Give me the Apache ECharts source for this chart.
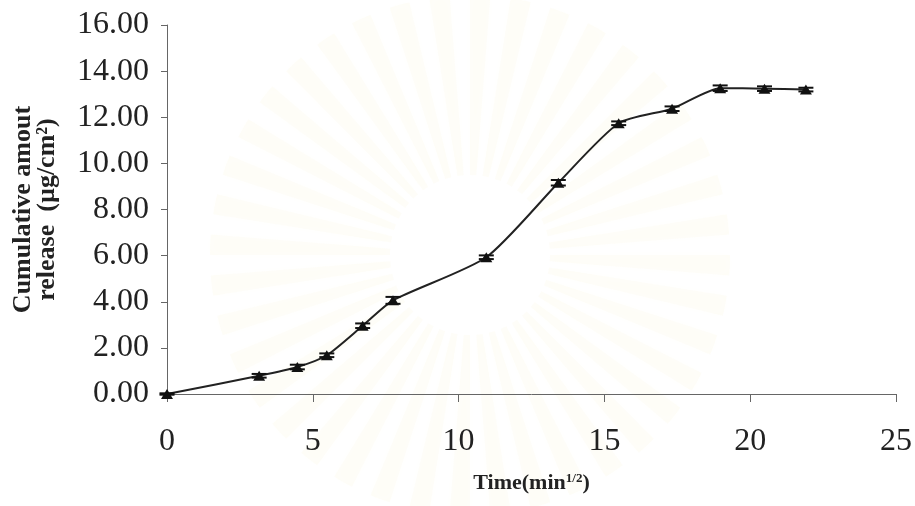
<!DOCTYPE html>
<html>
<head>
<meta charset="utf-8">
<script src="https://cdn.jsdelivr.net/npm/echarts@6/dist/echarts.min.js"></script>
<style>
  html, body { margin: 0; padding: 0; background: #ffffff; }
  #chart { width: 915px; height: 506px; }
</style>
</head>
<body>
<div id="chart"></div>
<script>
// Release time points on a square-root-of-time scale (min^1/2)
const timeSqrt = [0, 3.16, 4.47, 5.48, 6.71, 7.75, 10.95, 13.42, 15.49, 17.32, 18.97, 20.49, 21.91];
// Cumulative amount released (µg/cm²)
const released = [0.00, 0.79, 1.17, 1.68, 2.96, 4.06, 5.93, 9.16, 11.74, 12.37, 13.26, 13.24, 13.20];
// Standard deviation of each point
const releasedSd = [0.03, 0.08, 0.10, 0.08, 0.10, 0.15, 0.08, 0.12, 0.08, 0.10, 0.12, 0.10, 0.08];

const xTicks = [0, 5, 10, 15, 20, 25];
const yTicks = [0, 2, 4, 6, 8, 10, 12, 14, 16];

const chart = echarts.init(document.getElementById('chart'), null, { renderer: 'canvas' });

// faint sunburst backdrop
const rays = [];
const cx = 470, cy = 255;
for (let i = 0; i < 40; i++) {
  const a0 = (i / 40) * Math.PI * 2;
  rays.push({
    type: 'sector',
    silent: true,
    z: -10,
    shape: { cx: cx, cy: cy, r0: 80, r: 260, startAngle: a0, endAngle: a0 + Math.PI * 2 / 40 * 0.5 },
    style: { fill: 'rgba(244, 226, 160, 0.08)', shadowBlur: 12, shadowColor: 'rgba(244, 226, 160, 0.15)' }
  });
}

const serif = '"Liberation Serif", "DejaVu Serif", serif';

const option = {
  backgroundColor: '#ffffff',
  animation: false,
  graphic: rays,
  grid: { left: 167, right: 19, top: 25, bottom: 112, containLabel: false, outerBoundsMode: 'none' },
  xAxis: {
    type: 'value',
    min: xTicks[0],
    max: xTicks[xTicks.length - 1],
    interval: 5,
    splitLine: { show: false },
    axisLine: { lineStyle: { color: '#666', width: 1 } },
    axisTick: { show: true, length: 8, inside: false, lineStyle: { color: '#666' } },
    axisLabel: { fontFamily: serif, fontSize: 32, color: '#222', margin: 32 },
    name: 'Time(min{sup|1/2})',
    nameLocation: 'middle',
    nameGap: 78,
    nameTextStyle: {
      fontFamily: serif, fontSize: 22, fontWeight: 'bold', color: '#222',
      rich: { sup: { fontFamily: serif, fontSize: 13, fontWeight: 'bold', color: '#222', verticalAlign: 'top', padding: [0, 0, 9, 0] } }
    }
  },
  yAxis: {
    type: 'value',
    min: yTicks[0],
    max: yTicks[yTicks.length - 1],
    interval: 2,
    splitLine: { show: false },
    axisLine: { show: true, lineStyle: { color: '#666', width: 1 } },
    axisTick: { show: true, length: 6, inside: false, lineStyle: { color: '#666' } },
    axisLabel: { fontFamily: serif, fontSize: 32, color: '#222', margin: 18, formatter: v => v.toFixed(2) },
    name: 'Cumulative amout\nrelease  (µg/cm²)',
    nameLocation: 'middle',
    nameGap: 108,
    nameRotate: 90,
    nameTextStyle: { fontFamily: serif, fontSize: 26, fontWeight: 'bold', color: '#222', lineHeight: 24 }
  },
  series: [
    {
      type: 'line',
      data: timeSqrt.map((t, i) => [t, released[i]]),
      smooth: 0.22,
      symbol: 'triangle',
      symbolSize: [12, 10],
      itemStyle: { color: '#111' },
      lineStyle: { color: '#222', width: 2 },
      z: 3
    },
    {
      type: 'custom',
      data: timeSqrt.map((t, i) => [t, released[i], releasedSd[i]]),
      z: 4,
      renderItem: function (params, api) {
        const x = api.value(0), y = api.value(1), e = api.value(2);
        const top = api.coord([x, y + e]);
        const bot = api.coord([x, y - e]);
        const hw = 7.5;
        const st = { stroke: '#111', lineWidth: 2 };
        return {
          type: 'group',
          children: [
            { type: 'line', shape: { x1: top[0], y1: top[1], x2: bot[0], y2: bot[1] }, style: st },
            { type: 'line', shape: { x1: top[0] - hw, y1: top[1], x2: top[0] + hw, y2: top[1] }, style: st },
            { type: 'line', shape: { x1: bot[0] - hw, y1: bot[1], x2: bot[0] + hw, y2: bot[1] }, style: st }
          ]
        };
      }
    }
  ]
};

chart.setOption(option);
</script>
</body>
</html>
